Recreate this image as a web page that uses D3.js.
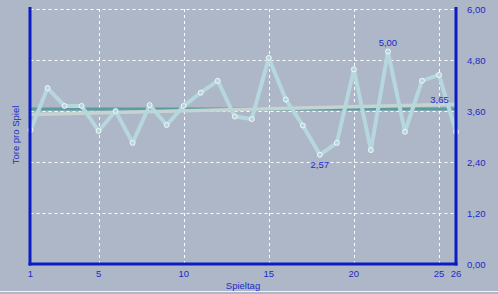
<!DOCTYPE html>
<html>
<head>
<meta charset="utf-8">
<script src="https://cdn.jsdelivr.net/npm/d3@7"></script>
<style>
  body { margin: 0; background: #adb7c7; }
  svg { display: block; }
  text { font-family: "Liberation Sans", Arial, sans-serif; font-size: 9.5px; fill: #1a2bc8; }
</style>
</head>
<body>
<script>
// Tore pro Spiel per Spieltag
const spieltage = d3.range(1, 27);
const tore = [3.15, 4.14, 3.72, 3.72, 3.13, 3.60, 2.85, 3.74, 3.27, 3.72, 4.03, 4.31, 3.47,
              3.41, 4.85, 3.87, 3.26, 2.57, 2.85, 4.58, 2.68, 5.00, 3.11, 4.31, 4.45, 3.11];
const mittel = 3.65;              // average line
const trend = [3.52, 3.76];       // trend line at Spieltag 1 and 26
const xTicks = [1, 5, 10, 15, 20, 25, 26];
const yTicks = [0, 1.2, 2.4, 3.6, 4.8, 6.0];
const labels = [                  // value labels on the chart
  { tag: 22, wert: 5.00, pos: "above" },
  { tag: 18, wert: 2.57, pos: "below" },
  { tag: 25.5, wert: 3.65, pos: "above" }
];

const width = 498, height = 294;
const fmt = v => d3.format(".2f")(v).replace(".", ",");

const svg = d3.select("body").append("svg")
  .attr("width", width)
  .attr("height", height);

svg.append("rect").attr("width", width).attr("height", height).attr("fill", "#adb7c7");
// light frame line at bottom
svg.append("line").attr("x1", 0).attr("x2", width).attr("y1", 291.5).attr("y2", 291.5)
  .attr("stroke", "#eef1f5").attr("stroke-width", 1);

const x = d3.scaleLinear().domain([1, 26]).range([30.5, 456]);
const y = d3.scaleLinear().domain([0, 6]).range([264, 9]);

// grid
const grid = svg.append("g").attr("stroke", "#ffffff").attr("stroke-width", 1)
  .attr("stroke-dasharray", "3,3");
grid.selectAll(".hg").data(yTicks.filter(d => d > 0)).enter().append("line")
  .attr("x1", x(1)).attr("x2", x(26))
  .attr("y1", d => Math.round(y(d)) + 0.5).attr("y2", d => Math.round(y(d)) + 0.5);
grid.selectAll(".vg").data([5, 10, 15, 20, 25]).enter().append("line")
  .attr("y1", y(6)).attr("y2", y(0))
  .attr("x1", d => Math.round(x(d)) + 0.5).attr("x2", d => Math.round(x(d)) + 0.5);

// average line
svg.append("line")
  .attr("x1", x(1)).attr("x2", x(26))
  .attr("y1", y(mittel)).attr("y2", y(mittel))
  .attr("stroke", "#5b9c9f").attr("stroke-width", 3);

// trend line
svg.append("line")
  .attr("x1", x(1)).attr("x2", x(26))
  .attr("y1", y(trend[0])).attr("y2", y(trend[1]))
  .attr("stroke", "#c5d3d1").attr("stroke-width", 3.5);

// series
const line = d3.line().x((d, i) => x(spieltage[i])).y(d => y(d));
svg.append("path").datum(tore)
  .attr("d", line)
  .attr("fill", "none")
  .attr("stroke", "#b5d7dd")
  .attr("stroke-width", 4)
  .attr("stroke-linejoin", "round");

svg.selectAll(".pt").data(tore).enter().append("circle")
  .attr("cx", (d, i) => x(spieltage[i]))
  .attr("cy", d => y(d))
  .attr("r", 2.5)
  .attr("fill", "#b5d7dd")
  .attr("stroke", "#ffffff")
  .attr("stroke-width", 0.8);

// axes (thick blue)
const axisCol = "#0c1cc4";
svg.append("line").attr("x1", 30).attr("x2", 30).attr("y1", 7).attr("y2", 265.5)
  .attr("stroke", axisCol).attr("stroke-width", 3);
svg.append("line").attr("x1", 456).attr("x2", 456).attr("y1", 7).attr("y2", 265.5)
  .attr("stroke", axisCol).attr("stroke-width", 3);
svg.append("line").attr("x1", 28.5).attr("x2", 457.5).attr("y1", 264).attr("y2", 264)
  .attr("stroke", axisCol).attr("stroke-width", 3);

// tick labels
svg.selectAll(".yl").data(yTicks).enter().append("text")
  .attr("x", 467)
  .attr("y", d => y(d) + 3.5)
  .text(d => fmt(d));
svg.selectAll(".xl").data(xTicks).enter().append("text")
  .attr("x", d => x(d))
  .attr("y", 277)
  .attr("text-anchor", "middle")
  .text(d => d);

// axis titles
svg.append("text").attr("x", 243).attr("y", 289).attr("text-anchor", "middle").text("Spieltag");
svg.append("text")
  .attr("transform", "translate(19,135) rotate(-90)")
  .attr("text-anchor", "middle")
  .text("Tore pro Spiel");

// value labels
svg.selectAll(".vl").data(labels).enter().append("text")
  .attr("x", d => x(d.tag) - (d.tag > 25 ? 8 : 0))
  .attr("y", d => d.pos === "above" ? y(d.wert) - 6 : y(d.wert) + 13)
  .attr("text-anchor", "middle")
  .text(d => fmt(d.wert));
</script>
</body>
</html>
